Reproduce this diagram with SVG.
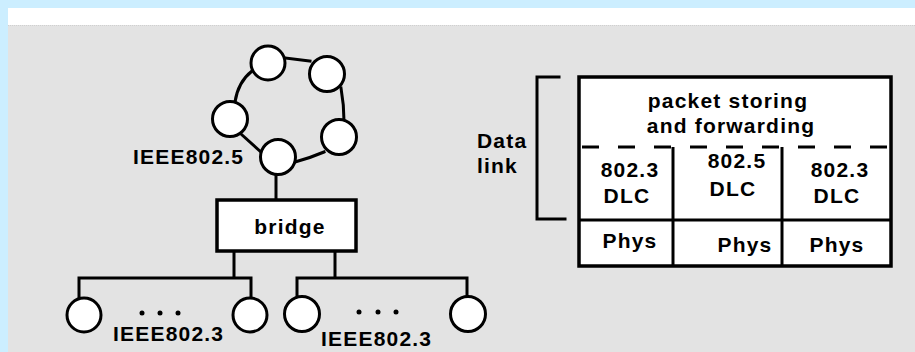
<svg xmlns="http://www.w3.org/2000/svg" width="915" height="352" viewBox="0 0 915 352">
<style>
.t{font-family:"Liberation Sans",Arial,sans-serif;font-weight:bold;font-size:21px;fill:#000;letter-spacing:1.2px}
.m{text-anchor:middle}
.ln{stroke:#000;stroke-width:3;fill:none;stroke-linecap:square}
.nd{fill:#fff;stroke:#000;stroke-width:3}
</style>
<rect x="0" y="0" width="915" height="352" fill="#cceeff"/>
<rect x="8" y="8" width="907" height="17" fill="#ffffff"/>
<rect x="8" y="25" width="907" height="327" fill="#e3e3e3"/>
<line x1="8" y1="25.5" x2="915" y2="25.5" stroke="#d0d0d0" stroke-width="1" stroke-dasharray="1 1"/>
<g id="connectors">
<path class="ln" d="M285,58 L310,61"/>
<path class="ln" d="M252,71 Q238,82 235,102"/>
<path class="ln" d="M341,88 Q344,105 344,121"/>
<path class="ln" d="M324,152 Q310,158 295,162"/>
<path class="ln" d="M241,134 L262,153"/>
<path class="ln" d="M276,173 L276,200"/>
<path class="ln" d="M234,251 L234,278 M79,278 L251,278 M79,278 L79,298 M251,278 L251,298"/>
<path class="ln" d="M335,251 L335,278 M297,278 L467,278 M297,278 L297,298 M467,278 L467,296"/>
</g>
<g id="ring">
<circle id="r1" class="nd" cx="268" cy="63" r="17"/>
<circle id="r2" class="nd" cx="327" cy="74" r="17.5"/>
<circle id="r3" class="nd" cx="230" cy="119" r="17.5"/>
<circle id="r4" class="nd" cx="339" cy="137" r="17.5"/>
<circle id="r5" class="nd" cx="278" cy="157" r="17.5"/>
</g>
<text class="t" x="133" y="164">IEEE802.5</text>
<g id="bridge">
<rect x="217" y="200" width="139" height="51" fill="#fff" stroke="#000" stroke-width="3.5"/>
<text class="t m" x="290" y="234">bridge</text>
</g>
<g id="lan1">
<circle class="nd" cx="84" cy="315" r="17"/>
<circle class="nd" cx="250" cy="315" r="17"/>
<circle cx="142" cy="313" r="2.5"/><circle cx="160" cy="313" r="2.5"/><circle cx="178" cy="313" r="2.5"/>
<text class="t" x="113" y="341">IEEE802.3</text>
</g>
<g id="lan2">
<circle class="nd" cx="302" cy="314" r="17.5"/>
<circle class="nd" cx="468" cy="314" r="17.5"/>
<circle cx="359" cy="312" r="2.5"/><circle cx="378" cy="312" r="2.5"/><circle cx="396" cy="312" r="2.5"/>
<text class="t" x="321" y="346">IEEE802.3</text>
</g>
<g id="bracket">
<path class="ln" d="M559,77 L537,77 L537,219 L565,219"/>
<text class="t" x="477" y="148">Data</text>
<text class="t" x="477" y="173">link</text>
</g>
<g id="stack">
<rect x="579" y="77" width="312" height="189" fill="#fff" stroke="#000" stroke-width="3.5"/>
<line x1="579" y1="147" x2="891" y2="147" stroke="#000" stroke-width="3" stroke-dasharray="17 19" stroke-dashoffset="33"/>
<line x1="673" y1="147" x2="673" y2="266" stroke="#000" stroke-width="3"/>
<line x1="782" y1="147" x2="782" y2="266" stroke="#000" stroke-width="3"/>
<line x1="579" y1="220" x2="891" y2="220" stroke="#000" stroke-width="3"/>
<text class="t m" x="728" y="108">packet storing</text>
<text class="t m" x="731" y="133">and forwarding</text>
<text class="t m" x="630" y="177">802.3</text>
<text class="t m" x="627" y="203">DLC</text>
<text class="t m" x="737" y="168">802.5</text>
<text class="t m" x="733" y="196">DLC</text>
<text class="t m" x="840" y="177">802.3</text>
<text class="t m" x="837" y="203">DLC</text>
<text class="t m" x="630" y="248">Phys</text>
<text class="t m" x="745" y="252">Phys</text>
<text class="t m" x="837" y="252">Phys</text>
</g>
</svg>
